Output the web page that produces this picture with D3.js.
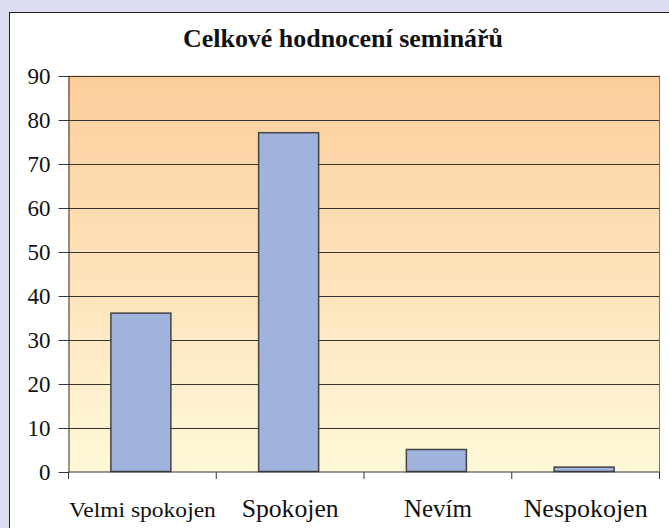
<!DOCTYPE html>
<html><head><meta charset="utf-8">
<script src="https://cdn.jsdelivr.net/npm/d3@7"></script>
<style>body{margin:0;background:#dcdcef;} svg{display:block;} text{font-family:'Liberation Serif','Times New Roman',Times,serif;}</style>
</head><body>
<svg id="c" width="669" height="528"></svg>
<script>
const title = "Celkové hodnocení seminářů";
const categories = ["Velmi spokojen", "Spokojen", "Nevím", "Nespokojen"];
const values = [36, 77, 5, 1];
const yTicks = [0, 10, 20, 30, 40, 50, 60, 70, 80, 90];
const labelWidths = [147, 97, 68, 124];

const FONT = "'Liberation Serif','Times New Roman',Times,serif";
const svg = d3.select("#c");
svg.append("rect").attr("x", 0).attr("y", 0).attr("width", 669).attr("height", 528).attr("fill", "#dcdcef");
svg.append("rect").attr("x", 9.5).attr("y", 12.5).attr("width", 670).attr("height", 530)
  .attr("fill", "#ffffff").attr("stroke", "#222").attr("stroke-width", 1);

const m = {left: 68, right: 659, top: 75.5, bottom: 471.5};
const x = d3.scaleBand().domain(categories).range([m.left, m.right]).paddingInner(0).paddingOuter(0);
const y = d3.scaleLinear().domain([0, 90]).range([m.bottom, m.top]);

const defs = svg.append("defs");
const g = defs.append("linearGradient").attr("id", "bg").attr("x1", 0).attr("y1", 0).attr("x2", 0).attr("y2", 1);
g.append("stop").attr("offset", "0%").attr("stop-color", "#fccd9c");
g.append("stop").attr("offset", "100%").attr("stop-color", "#fef8d8");

svg.append("rect").attr("x", m.left).attr("y", m.top).attr("width", m.right - m.left).attr("height", m.bottom - m.top)
  .attr("fill", "url(#bg)");

svg.append("g").selectAll("line").data(yTicks.filter(d => d > 0)).join("line")
  .attr("x1", m.left).attr("x2", m.right)
  .attr("y1", d => Math.round(y(d)) + 0.5).attr("y2", d => Math.round(y(d)) + 0.5)
  .attr("stroke", "#333").attr("stroke-width", 1);

svg.append("line").attr("x1", m.right + 0.5).attr("x2", m.right + 0.5).attr("y1", m.top).attr("y2", m.bottom + 6)
  .attr("stroke", "#777").attr("stroke-width", 1);

const bw = 60;
svg.append("g").selectAll("rect").data(values).join("rect")
  .attr("x", (d, i) => x(categories[i]) + x.bandwidth() / 2 - bw / 2 - 1)
  .attr("y", d => y(d))
  .attr("width", bw)
  .attr("height", d => y(0) - y(d))
  .attr("fill", "#a0b3dc").attr("stroke", "#444").attr("stroke-width", 1.5);

const yAxis = d3.axisLeft(y).tickValues(yTicks).tickSize(10).tickPadding(8).tickSizeOuter(0);
const ya = svg.append("g").attr("transform", `translate(${m.left + 0.5},0.5)`).call(yAxis)
  .attr("font-family", FONT);
ya.select(".domain").attr("stroke", "#333");
ya.selectAll(".tick line").attr("stroke", "#333");
ya.selectAll(".tick text").attr("font-size", 23).attr("fill", "#111").attr("dy", "0.33em");

const xa = svg.append("g").attr("transform", `translate(0.5,${m.bottom + 0.5})`);
const bounds = [0, 1, 2, 3, 4].map(i => m.left + i * x.step());
xa.append("line").attr("x1", m.left).attr("x2", m.right).attr("y1", 0).attr("y2", 0).attr("stroke", "#333");
xa.selectAll("line.t").data(bounds).join("line").attr("class", "t")
  .attr("x1", d => d).attr("x2", d => d).attr("y1", 0).attr("y2", 7).attr("stroke", "#333");
xa.selectAll("text").data(categories).join("text")
  .attr("x", d => x(d) + x.bandwidth() / 2)
  .attr("y", 44.5)
  .attr("text-anchor", "middle")
  .attr("font-family", FONT)
  .attr("font-size", (d, i) => i === 0 ? 22 : 25)
  .attr("textLength", (d, i) => labelWidths[i]).attr("lengthAdjust", "spacingAndGlyphs")
  .attr("fill", "#111")
  .text(d => d);

svg.append("text").attr("x", 343).attr("y", 47).attr("text-anchor", "middle")
  .attr("font-family", FONT).attr("font-weight", "bold")
  .attr("font-size", 25).attr("textLength", 320).attr("lengthAdjust", "spacingAndGlyphs")
  .attr("fill", "#111").text(title);
</script>
</body></html>
